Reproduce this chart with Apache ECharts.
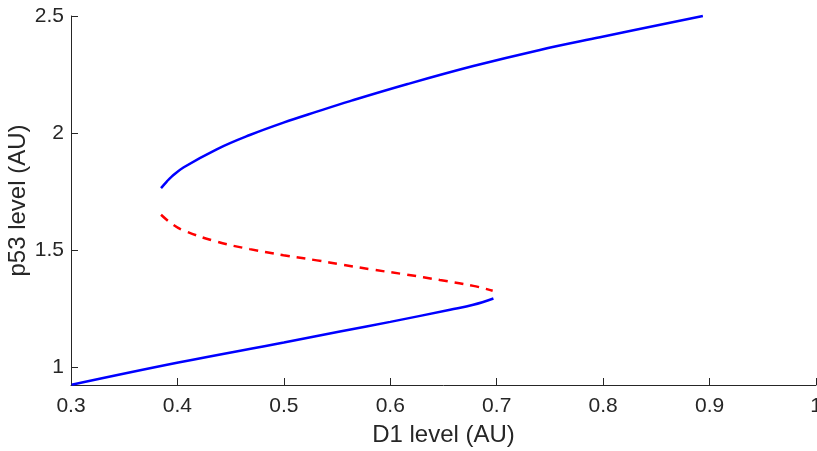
<!DOCTYPE html>
<html>
<head>
<meta charset="utf-8">
<script src="https://cdn.jsdelivr.net/npm/echarts@6/dist/echarts.min.js"></script>
<style>html,body{margin:0;padding:0;background:#fff}#c{width:817px;height:451px}</style>
</head>
<body>
<div id="c"></div>
<script>
const xTicks = [0.3, 0.4, 0.5, 0.6, 0.7, 0.8, 0.9, 1];
const yTicks = [1, 1.5, 2, 2.5];

const upperX = [0.3846, 0.3900, 0.3946, 0.4056, 0.4369, 0.468, 0.4996, 0.531, 0.5622, 0.6155, 0.678, 0.7406, 0.797, 0.8937];
const upperY = [1.764, 1.792, 1.813, 1.852, 1.930, 1.991, 2.044, 2.091, 2.136, 2.208, 2.286, 2.355, 2.409, 2.5];

const middleX = [0.3846, 0.3946, 0.4056, 0.4369, 0.468, 0.4996, 0.531, 0.5544, 0.5841, 0.6155, 0.6466, 0.678, 0.6962];
const middleY = [1.650, 1.612, 1.583, 1.535, 1.503, 1.477, 1.455, 1.437, 1.415, 1.394, 1.371, 1.346, 1.325];

const lowerX = [0.3006, 0.4008, 0.500, 0.5527, 0.6, 0.6562, 0.678, 0.6969];
const lowerY = [0.923, 1.018, 1.104, 1.151, 1.192, 1.244, 1.265, 1.292];

const zip = (a, b) => a.map((v, i) => [v, b[i]]);
const FONT = '"Liberation Sans", Arial, Helvetica, sans-serif';
const TXT = '#262626';

const chart = echarts.init(document.getElementById('c'), null, {renderer: 'canvas'});
chart.setOption({
  animation: false,
  backgroundColor: '#fff',
  grid: {left: 71, right: 1, top: 16, bottom: 66, containLabel: false, outerBoundsMode: 'none'},
  xAxis: {
    type: 'value', min: 0.3, max: 1,
    name: 'D1 level (AU)', nameLocation: 'middle', nameGap: 38, nameMoveOverlap: false,
    nameTextStyle: {fontFamily: FONT, fontSize: 24, color: TXT},
    axisLine: {show: true, lineStyle: {color: TXT, width: 1}},
    axisTick: {show: true, inside: true, length: 7, customValues: xTicks, lineStyle: {color: TXT}},
    axisLabel: {customValues: xTicks, margin: 11, fontFamily: FONT, fontSize: 21, color: TXT,
      formatter: v => String(Math.round(v * 10) / 10)},
    splitLine: {show: false}
  },
  yAxis: {
    type: 'value', min: 0.922, max: 2.5,
    name: 'p53 level (AU)', nameLocation: 'middle', nameGap: 41, nameMoveOverlap: false,
    nameTextStyle: {fontFamily: FONT, fontSize: 24, color: TXT},
    axisLine: {show: true, lineStyle: {color: TXT, width: 1}},
    axisTick: {show: true, inside: true, length: 7, customValues: yTicks, lineStyle: {color: TXT}},
    axisLabel: {customValues: yTicks, margin: 7, fontFamily: FONT, fontSize: 21, color: TXT,
      formatter: v => String(v)},
    splitLine: {show: false}
  },
  series: [
    {type: 'line', data: zip(upperX, upperY), smooth: 0.4, symbol: 'none', clip: false,
      lineStyle: {color: '#0000ff', width: 2.5}},
    {type: 'line', data: zip(middleX, middleY), smooth: 0.4, symbol: 'none', clip: false,
      lineStyle: {color: '#ff0000', width: 2.5, type: [9, 7]}},
    {type: 'line', data: zip(lowerX, lowerY), smooth: 0.4, symbol: 'none', clip: false,
      lineStyle: {color: '#0000ff', width: 2.5}}
  ]
});
</script>
</body>
</html>
